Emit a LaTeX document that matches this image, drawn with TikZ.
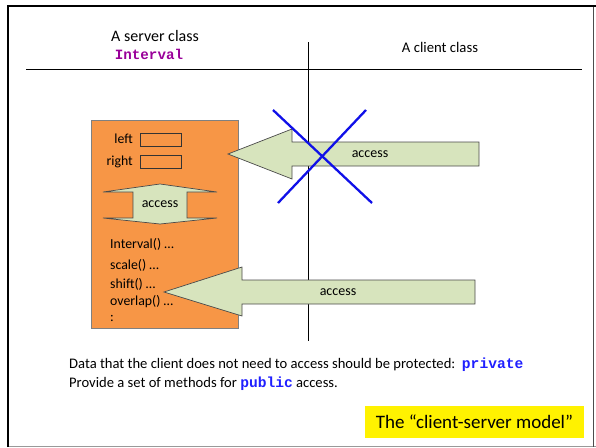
\documentclass[tikz,border=0pt]{standalone}
\usepackage{fontspec}
\setmainfont{Carlito}
\newfontfamily\codefont{Liberation Mono}
\definecolor{boxorange}{HTML}{F79646}
\definecolor{arrowgreen}{HTML}{D7E4BD}
\definecolor{arrowedge}{HTML}{4A4A4A}
\definecolor{codepurple}{HTML}{990099}
\definecolor{codeblue}{HTML}{1F1FFF}
\definecolor{crossblue}{HTML}{1010E8}
\begin{document}
\begin{tikzpicture}[x=1pt,y=-1pt,
  txt/.style={inner sep=0pt, font=\fontsize{13.8}{16}\selectfont},
  body/.style={inner sep=0pt, font=\fontsize{14.6}{17}\selectfont},
  acc/.style={inner sep=0pt, font=\fontsize{14}{16}\selectfont},
  blockarrow/.style={fill=arrowgreen, draw=arrowedge, line width=0.7pt, line join=miter},
  fieldbox/.style={draw=black!80, line width=0.6pt, minimum width=41pt, minimum height=13pt, inner sep=0pt},
  cross/.style={draw=crossblue, line width=2.3pt}]
\useasboundingbox (0,0) rectangle (596,447);
% frame
\draw[black!40, line width=1pt] (9,446) -- (596,446);
\draw[black!70, line width=1pt] (593,6) -- (593,447);
\draw[black, line width=2.6pt] (8,447) -- (8,6) -- (596,6);
% header
\node[inner sep=0pt, font=\fontsize{16}{18}\selectfont] (srv) at (155,36) {A server class};
\node[inner sep=0pt, font=\fontsize{14.2}{16}\selectfont\codefont\bfseries, text=codepurple] (intv) at (149,54) {Interval};
\node[inner sep=0pt, font=\fontsize{14.7}{16}\selectfont] (cli) at (440,47) {A client class};
\draw[line width=0.8pt] (26,69) -- (582,69);
\draw[line width=0.8pt] (308,42) -- (308,341);
% server box
\node[draw=black!50, fill=boxorange, line width=0.7pt, minimum width=147pt, minimum height=208pt, inner sep=0pt] (server) at (164.5,224) {};
\node[txt, anchor=east] (left) at (133,139) {left};
\node[fieldbox] (leftbox) at (160.5,139.5) {};
\node[txt, anchor=east] (right) at (133,162) {right};
\node[fieldbox] (rightbox) at (160.5,161.5) {};
% up-down access arrow
\draw[blockarrow] (103,192) -- (160,184) -- (217,192) -- (187,192) -- (187,218) -- (217,218) -- (160,224) -- (103,218) -- (133,218) -- (133,192) -- cycle;
\node[acc] (inacc) at (160,204) {access};
\node[txt, anchor=west] (m1) at (110,244) {Interval() …};
\node[txt, anchor=west] (m2) at (110,265) {scale() …};
\node[txt, anchor=west] (m3) at (110,284) {shift() …};
\node[txt, anchor=west] (m4) at (110,302) {overlap() …};
\node[txt, anchor=west] (m5) at (110,318) {:};
% upper (forbidden) access arrow
\draw[blockarrow] (228,154) -- (292,129) -- (292,142) -- (479,142) -- (479,166) -- (292,166) -- (292,179) -- cycle;
\node[acc] (acc1) at (370,154) {access};
\coordinate (x1a) at (273,110);
\coordinate (x1b) at (372,203);
\coordinate (x2a) at (366,110);
\coordinate (x2b) at (278,203);
\draw[cross] (x1a) -- (x1b);
\draw[cross] (x2a) -- (x2b);
% lower access arrow
\draw[blockarrow] (164,292) -- (242,267) -- (242,280) -- (475,280) -- (475,304) -- (242,304) -- (242,316) -- cycle;
\node[acc] (acc2) at (338,292) {access};
% bottom text
\node[body, anchor=west] (t1) at (69,365) {Data that the client does not need to access should be protected:\ \ {\codefont\bfseries\color{codeblue}private}};
\node[body, anchor=west] (t2) at (69,383.5) {Provide a set of methods for {\codefont\bfseries\color{codeblue}public} access.};
\node[fill=yellow, minimum width=219pt, minimum height=31.5pt, inner sep=0pt, font=\fontsize{19}{22}\selectfont] (model) at (474.5,421.8) {The “client-server model”};
\end{tikzpicture}
\end{document}
